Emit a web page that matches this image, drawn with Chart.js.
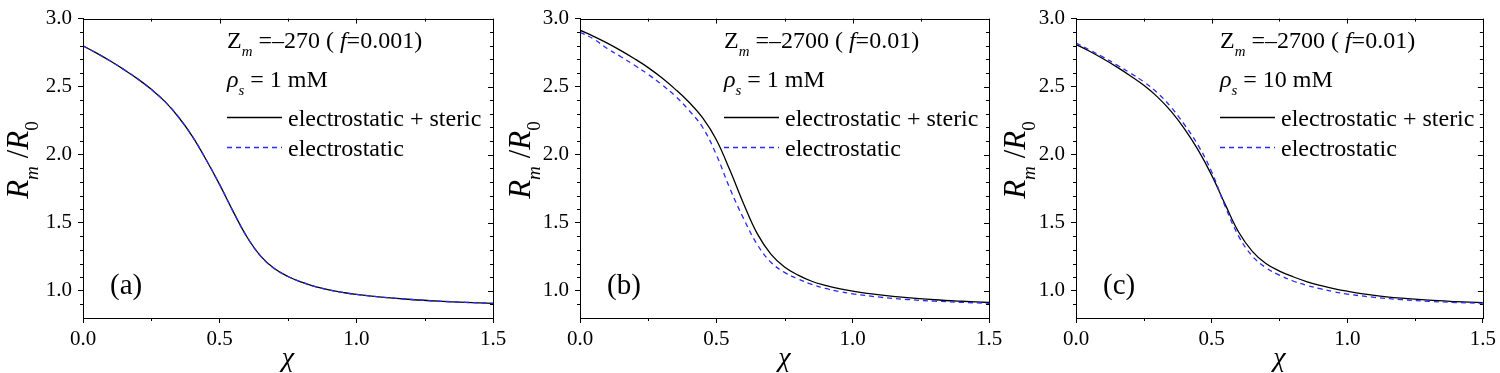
<!DOCTYPE html>
<html>
<head>
<meta charset="utf-8">
<script src="https://cdn.jsdelivr.net/npm/chart.js@4.4.1/dist/chart.umd.min.js"></script>
<style>
  html, body { margin: 0; padding: 0; background: #fff; }
  body { width: 1500px; height: 373px; position: relative; overflow: hidden; }
  .panel { position: absolute; top: 0; height: 373px; }
</style>
</head>
<body>
<div class="panel" style="left:0;width:515px"><canvas id="chartA" width="515" height="373"></canvas></div>
<div class="panel" style="left:495px;width:515px"><canvas id="chartB" width="515" height="373"></canvas></div>
<div class="panel" style="left:995px;width:505px"><canvas id="chartC" width="505" height="373"></canvas></div>
<script>
// x grid (chi) shared by all curves
const chi = [0, 0.05, 0.1, 0.15, 0.2, 0.25, 0.3, 0.35, 0.4, 0.45, 0.5, 0.55, 0.6, 0.65, 0.7, 0.75, 0.8, 0.85, 0.9, 0.95, 1.0, 1.1, 1.2, 1.3, 1.4, 1.5];

// (a) Zm=-270, 1 mM  (both curves overlap)
const stericA  = [2.80, 2.746, 2.688, 2.625, 2.557, 2.48, 2.39, 2.275, 2.135, 1.965, 1.78, 1.58, 1.395, 1.255, 1.163, 1.105, 1.063, 1.03, 1.006, 0.988, 0.973, 0.952, 0.936, 0.924, 0.915, 0.908];
const electroA = [2.80, 2.746, 2.688, 2.625, 2.557, 2.48, 2.39, 2.275, 2.135, 1.965, 1.78, 1.58, 1.395, 1.255, 1.163, 1.105, 1.063, 1.03, 1.006, 0.988, 0.973, 0.952, 0.936, 0.924, 0.915, 0.908];

// (b) Zm=-2700, 1 mM
const stericB  = [2.915, 2.87, 2.82, 2.765, 2.705, 2.64, 2.565, 2.48, 2.385, 2.27, 2.11, 1.885, 1.64, 1.42, 1.27, 1.175, 1.115, 1.07, 1.04, 1.016, 0.998, 0.970, 0.949, 0.934, 0.923, 0.914];
const electroB = [2.90, 2.85, 2.78, 2.72, 2.657, 2.59, 2.515, 2.43, 2.325, 2.20, 2.00, 1.75, 1.53, 1.34, 1.21, 1.135, 1.087, 1.047, 1.017, 0.995, 0.978, 0.953, 0.936, 0.924, 0.915, 0.908];

// (c) Zm=-2700, 10 mM
const stericC  = [2.81, 2.76, 2.705, 2.645, 2.58, 2.51, 2.425, 2.32, 2.19, 2.035, 1.85, 1.635, 1.43, 1.29, 1.20, 1.145, 1.103, 1.068, 1.04, 1.016, 0.997, 0.967, 0.946, 0.931, 0.921, 0.913];
const electroC = [2.82, 2.77, 2.717, 2.66, 2.60, 2.535, 2.455, 2.35, 2.22, 2.07, 1.875, 1.62, 1.40, 1.255, 1.17, 1.115, 1.072, 1.04, 1.015, 0.993, 0.976, 0.952, 0.935, 0.923, 0.914, 0.908];

// ticks
const xMajor = [0, 0.5, 1.0, 1.5];
const xMinor = [0.25, 0.75, 1.25];
const yMajor = [1.0, 1.5, 2.0, 2.5, 3.0];
const yMinor = [0.9, 1.1, 1.2, 1.3, 1.4, 1.6, 1.7, 1.8, 1.9, 2.1, 2.2, 2.3, 2.4, 2.6, 2.7, 2.8, 2.9];

const SERIF = '"Liberation Serif", "Times New Roman", serif';
const BLUE = '#2b2bf5';

const toXY = (xs, ys) => xs.map((x, i) => ({ x: x, y: ys[i] }));

// draws text made of pieces (italic / subscript)
function drawRich(ctx, x, y, segs, size, measureOnly) {
    segs.forEach(s => {
        const fs = s.sub ? size * 0.62 : size;
        ctx.font = (s.it ? 'italic ' : '') + fs + 'px ' + SERIF;
        if (!measureOnly) ctx.fillText(s.t, x, y + (s.sub ? size * 0.33 : 0));
        x += ctx.measureText(s.t).width;
    });
    return x;
}

const panelDeco = {
    id: 'panelDeco',
    afterDraw(chart, args, opts) {
        const { ctx, chartArea: a, scales: { x, y } } = chart;
        ctx.save();
        ctx.strokeStyle = '#000';
        ctx.lineWidth = 1;
        ctx.strokeRect(Math.round(a.left) + 0.5, Math.round(a.top) + 0.5, Math.round(a.right - a.left), Math.round(a.bottom - a.top));

        ctx.beginPath();
        // bottom minor (out), top major+minor (in)
        xMinor.forEach(v => {
            const px = Math.round(x.getPixelForValue(v)) + 0.5;
            ctx.moveTo(px, a.bottom); ctx.lineTo(px, a.bottom + 3);
            ctx.moveTo(px, a.top); ctx.lineTo(px, a.top + 3);
        });
        xMajor.forEach(v => {
            const px = Math.round(x.getPixelForValue(v)) + 0.5;
            ctx.moveTo(px, a.top); ctx.lineTo(px, a.top + 5);
        });
        // left minor (out), right major+minor (in)
        yMinor.forEach(v => {
            const py = Math.round(y.getPixelForValue(v)) + 0.5;
            ctx.moveTo(a.left, py); ctx.lineTo(a.left - 3, py);
            ctx.moveTo(a.right, py); ctx.lineTo(a.right - 3, py);
        });
        yMajor.forEach(v => {
            const py = Math.round(y.getPixelForValue(v)) + 0.5;
            ctx.moveTo(a.right, py); ctx.lineTo(a.right - 5, py);
        });
        ctx.stroke();

        ctx.fillStyle = '#000';
        ctx.textBaseline = 'alphabetic';
        ctx.textAlign = 'left';

        // annotation block
        const tx = a.left + 144;
        drawRich(ctx, tx, 48, opts.zLine, 24);
        drawRich(ctx, tx, 87, opts.rhoLine, 24);

        ctx.beginPath();
        ctx.lineWidth = 1.3;
        ctx.strokeStyle = '#000';
        ctx.moveTo(tx, 117.5); ctx.lineTo(tx + 55, 117.5);
        ctx.stroke();
        ctx.beginPath();
        ctx.strokeStyle = BLUE;
        ctx.setLineDash([5, 4]);
        ctx.moveTo(tx, 147.5); ctx.lineTo(tx + 55, 147.5);
        ctx.stroke();
        ctx.setLineDash([]);
        drawRich(ctx, tx + 61, 126, [{ t: 'electrostatic + steric' }], 24);
        drawRich(ctx, tx + 61, 156, [{ t: 'electrostatic' }], 24);

        // panel label
        drawRich(ctx, a.left + 27, 294, [{ t: opts.label }], 29);

        // x title
        const xt = [{ t: '\u03C7', it: true }];
        const xw = drawRich(ctx, 0, 0, xt, 28, true);
        drawRich(ctx, (a.left + a.right) / 2 - xw / 2, 366, xt, 28);

        // y title (rotated)
        const yt = [{ t: 'R', it: true }, { t: 'm', it: true, sub: true }, { t: ' /' }, { t: 'R', it: true }, { t: '0', sub: true }];
        const yw = drawRich(ctx, 0, 0, yt, 31, true);
        ctx.translate(a.left - opts.titleGap, 160);
        ctx.rotate(-Math.PI / 2);
        drawRich(ctx, -yw / 2, 0, yt, 31);
        ctx.restore();
    }
};

function makePanel(id, cfg) {
    return new Chart(document.getElementById(id), {
        type: 'line',
        data: {
            datasets: [
                {
                    label: 'electrostatic',
                    data: toXY(chi, cfg.electro),
                    borderColor: BLUE,
                    borderWidth: 1.3,
                    borderDash: [5, 4],
                    pointRadius: 0,
                    tension: 0.4,
                    fill: false
                },
                {
                    label: 'electrostatic + steric',
                    data: toXY(chi, cfg.steric),
                    borderColor: '#000',
                    borderWidth: 1.3,
                    pointRadius: 0,
                    tension: 0.4,
                    fill: false
                }
            ]
        },
        options: {
            responsive: false,
            animation: false,
            events: [],
            layout: { padding: { top: 16, right: cfg.padRight, left: 0, bottom: 0 } },
            plugins: {
                legend: { display: false },
                tooltip: { enabled: false },
                panelDeco: cfg.deco
            },
            scales: {
                x: {
                    type: 'linear',
                    min: 0,
                    max: 1.5,
                    afterBuildTicks: s => { s.ticks = xMajor.map(v => ({ value: v })); },
                    afterFit: s => { s.height = 55; },
                    ticks: {
                        callback: v => v.toFixed(1),
                        color: '#000',
                        font: { family: SERIF, size: 21 },
                        padding: 4,
                        maxRotation: 0,
                        autoSkip: false
                    },
                    grid: { display: true, drawOnChartArea: false, drawTicks: true, tickLength: 5, color: '#000' },
                    border: { display: true, color: '#000' }
                },
                y: {
                    type: 'linear',
                    min: 0.8,
                    max: 3.0,
                    afterBuildTicks: s => { s.ticks = yMajor.map(v => ({ value: v })); },
                    afterFit: s => { s.width = cfg.yWidth; },
                    ticks: {
                        callback: v => v.toFixed(1),
                        color: '#000',
                        font: { family: SERIF, size: 21 },
                        padding: 6,
                        autoSkip: false
                    },
                    grid: { display: true, drawOnChartArea: false, drawTicks: true, tickLength: 5, color: '#000' },
                    border: { display: true, color: '#000' }
                }
            }
        },
        plugins: [panelDeco]
    });
}

makePanel('chartA', {
    steric: stericA, electro: electroA, yWidth: 83, padRight: 22,
    deco: {
        label: '(a)', titleGap: 55,
        zLine: [{ t: 'Z' }, { t: 'm', it: true, sub: true }, { t: ' =\u2013270 ( ' }, { t: 'f', it: true }, { t: '=0.001)' }],
        rhoLine: [{ t: '\u03C1', it: true }, { t: 's', it: true, sub: true }, { t: ' = 1 mM' }]
    }
});
makePanel('chartB', {
    steric: stericB, electro: electroB, yWidth: 85, padRight: 21,
    deco: {
        label: '(b)', titleGap: 50,
        zLine: [{ t: 'Z' }, { t: 'm', it: true, sub: true }, { t: ' =\u20132700 ( ' }, { t: 'f', it: true }, { t: '=0.01)' }],
        rhoLine: [{ t: '\u03C1', it: true }, { t: 's', it: true, sub: true }, { t: ' = 1 mM' }]
    }
});
makePanel('chartC', {
    steric: stericC, electro: electroC, yWidth: 81, padRight: 16,
    deco: {
        label: '(c)', titleGap: 51,
        zLine: [{ t: 'Z' }, { t: 'm', it: true, sub: true }, { t: ' =\u20132700 ( ' }, { t: 'f', it: true }, { t: '=0.01)' }],
        rhoLine: [{ t: '\u03C1', it: true }, { t: 's', it: true, sub: true }, { t: ' = 10 mM' }]
    }
});
</script>
</body>
</html>
